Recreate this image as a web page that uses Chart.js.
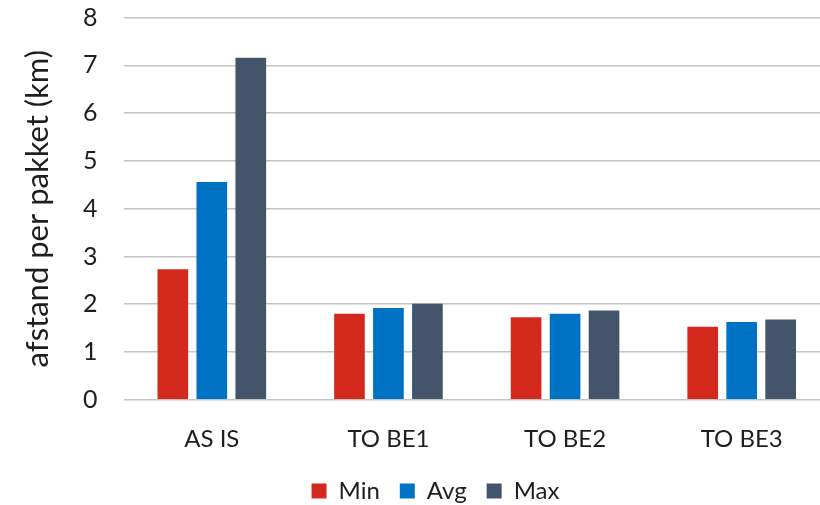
<!DOCTYPE html>
<html>
<head>
<meta charset="utf-8">
<script src="https://cdn.jsdelivr.net/npm/chart.js@4/dist/chart.umd.min.js"></script>
<style>
  html, body { margin: 0; padding: 0; background: #ffffff; overflow: hidden; }
  #wrap { width: 840px; height: 505px; }
</style>
</head>
<body>
<div id="wrap"><canvas id="c" width="840" height="505"></canvas></div>
<script>
// Scenarios on the category axis
const categories = ['AS IS', 'TO BE1', 'TO BE2', 'TO BE3'];

// Distance per parcel (km) for each scenario
const minValues = [2.73, 1.80, 1.73, 1.53];
const avgValues = [4.56, 1.92, 1.80, 1.63];
const maxValues = [7.16, 2.01, 1.87, 1.68];

// Value axis ticks
const yTicks = [0, 1, 2, 3, 4, 5, 6, 7, 8];

const seriesNames = ['Min', 'Avg', 'Max'];
const seriesColors = ['#D42A1E', '#0072C4', '#44546A'];

const FONT = 'Lato, "Open Sans", sans-serif';
const TEXT = '#1e1e1e';

const ctx = document.getElementById('c').getContext('2d');
new Chart(ctx, {
  type: 'bar',
  data: {
    labels: categories,
    datasets: [minValues, avgValues, maxValues].map((vals, i) => ({
      label: seriesNames[i],
      data: vals,
      backgroundColor: seriesColors[i],
      borderWidth: 0,
      categoryPercentage: 0.662,
      barPercentage: 0.787
    }))
  },
  options: {
    responsive: false,
    animation: false,
    layout: { padding: { left: 41, right: 10, top: 17.5, bottom: -8 } },
    plugins: {
      tooltip: { enabled: false },
      legend: {
        position: 'bottom',
        labels: {
          boxWidth: 15,
          boxHeight: 15,
          padding: 20,
          color: TEXT,
          font: { family: FONT, size: 24 }
        }
      }
    },
    scales: {
      x: {
        grid: { display: false, drawTicks: false },
        border: { display: false },
        afterFit: (scale) => { scale.height = 59.2; },
        ticks: {
          color: TEXT,
          padding: 25,
          font: { family: FONT, size: 24 }
        }
      },
      y: {
        min: 0,
        max: 8,
        afterBuildTicks: (scale) => { scale.ticks = yTicks.map(v => ({ value: v })); },
        afterFit: (scale) => { scale.width = 82.5; },
        // blank tick marks keep the labels clear of the plot
        grid: { color: '#c4c4c4', lineWidth: 1.5, drawTicks: true, tickLength: 26, tickColor: 'rgba(0,0,0,0)' },
        border: { display: false },
        ticks: {
          color: TEXT,
          padding: 0,
          font: { family: FONT, size: 25 }
        },
        title: {
          display: true,
          text: 'afstand per pakket (km)',
          color: TEXT,
          padding: { top: -21.6, bottom: 0 },
          font: { family: FONT, size: 31 }
        }
      }
    }
  }
});
</script>
</body>
</html>
